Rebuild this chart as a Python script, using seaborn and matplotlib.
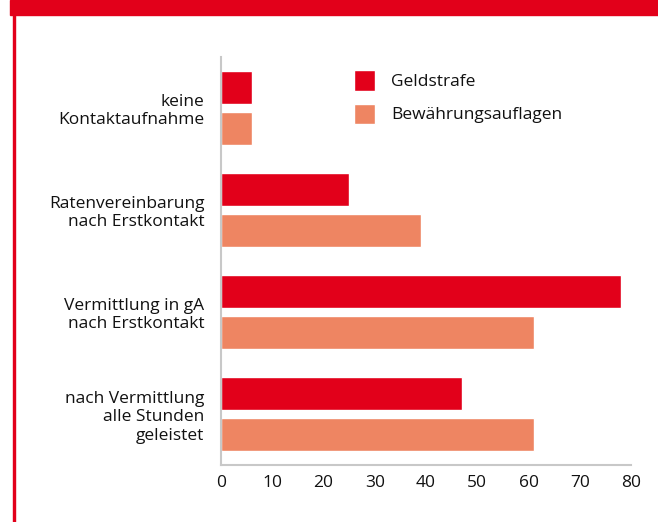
import pandas as pd
import matplotlib
matplotlib.use('Agg')
import matplotlib.pyplot as plt
import seaborn as sns

categories = ['keine\nKontaktaufnahme',
              'Ratenvereinbarung\nnach Erstkontakt',
              'Vermittlung in gA\nnach Erstkontakt',
              'nach Vermittlung\nalle Stunden\ngeleistet']
geldstrafe = [6, 25, 78, 47]
bewaehrung = [6, 39, 61, 61]
series = ['Geldstrafe', 'Bewährungsauflagen']
colors = ['#E2001A', '#EE8562']
x_ticks = [0, 10, 20, 30, 40, 50, 60, 70, 80]

df = pd.DataFrame({
    'Kategorie': categories * 2,
    'Wert': geldstrafe + bewaehrung,
    'Gruppe': [series[0]] * 4 + [series[1]] * 4,
})

sns.set_style('white')
plt.rcParams['font.family'] = ['Open Sans', 'DejaVu Sans']

fig = plt.figure(figsize=(6.58, 5.22), dpi=100)
ax = fig.add_axes([0.336, 0.109, 0.623, 0.782])

sns.barplot(data=df, y='Kategorie', x='Wert', hue='Gruppe', order=categories,
            hue_order=series, palette=colors, orient='h', width=0.8, gap=0.2,
            saturation=1, ax=ax)

ax.set_xlim(0, 80)
ax.set_ylim(3.5, -0.5)
ax.set_xticks(x_ticks)
ax.set_xlabel('')
ax.set_ylabel('')
ax.tick_params(axis='both', length=0, labelsize=12.5, colors='#111111')
ax.tick_params(axis='y', pad=12)
ax.tick_params(axis='x', pad=7)

sns.despine(ax=ax, top=True, right=True)
for side in ['left', 'bottom']:
    ax.spines[side].set_color('#c8c8c8')
    ax.spines[side].set_linewidth(1.5)

leg = ax.legend(loc='upper left', bbox_to_anchor=(0.285, 1.005), frameon=False,
                fontsize=12.5, handlelength=1.25, handleheight=1.4,
                labelspacing=0.75, handletextpad=0.9)
for t in leg.get_texts():
    t.set_color('#111111')

# red frame: banner on top and line down the left
fig.patches.append(plt.Rectangle((10 / 658, 1 - 15 / 522), 1, 15 / 522,
                                 transform=fig.transFigure, color='#E2001A', zorder=0))
fig.patches.append(plt.Rectangle((12.5 / 658, 0), 2.5 / 658, 1,
                                 transform=fig.transFigure, color='#E2001A', zorder=0))

for lbl in ax.get_yticklabels():
    lbl.set_horizontalalignment('right')
    lbl.set_multialignment('right')

fig.savefig('out.png', dpi=100)
